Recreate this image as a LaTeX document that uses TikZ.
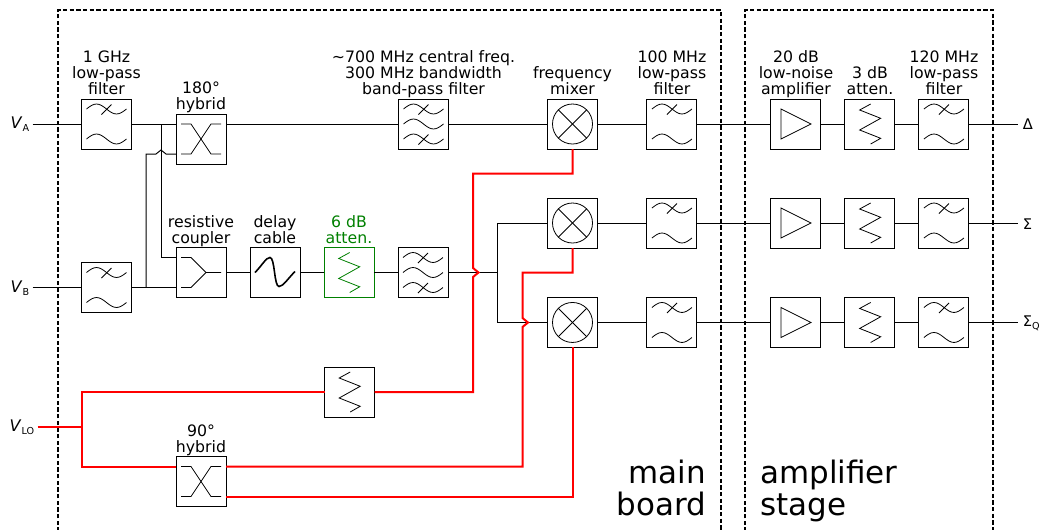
\documentclass[tikz,border=0pt]{standalone}
\usepackage{fontspec}
\setmainfont{DejaVu Sans}
\usepackage{xcolor}
\usetikzlibrary{positioning, calc}
\definecolor{rfLine}{HTML}{000000}
\definecolor{rfLo}{HTML}{FF0000}
\definecolor{rfGreen}{HTML}{008000}
% glyphs drawn inside the boxes, in pixels from the box centre
\newcommand{\rfwave}[1]{\draw (-20,#1) sin (-10,#1-5) cos (0,#1) sin (10,#1+5) cos (20,#1);}
\newcommand{\rfslash}[1]{\draw (5,#1-4.5) -- (-5,#1+5.5);}
\newcommand{\rfsub}[1]{\raisebox{-2.2pt}{\fontsize{7.2}{8}\selectfont #1}}
\tikzset{
  rf-box/.style={
    rectangle, draw, fill=white, line width=0.75pt, minimum size=37.5pt,
    inner sep=0pt, outer sep=0pt
  },
  rf-lpf/.style={rf-box, path picture={
    \begin{scope}[shift={(path picture bounding box.center)}, line width=0.6pt]
      \rfwave{-15}\rfslash{-15}\rfwave{15}
    \end{scope}}},
  rf-bpf/.style={rf-box, path picture={
    \begin{scope}[shift={(path picture bounding box.center)}, line width=0.6pt]
      \rfwave{-15}\rfslash{-15}\rfwave{0}\rfwave{15}\rfslash{15}
    \end{scope}}},
  rf-hybrid/.style={rf-box, path picture={
    \begin{scope}[shift={(path picture bounding box.center)}, line width=0.6pt]
      \draw (-20,-15) -- (-10,-15) -- (10,15) -- (20,15);
      \draw (-20,15) -- (-10,15) -- (10,-15) -- (20,-15);
    \end{scope}}},
  rf-coupler/.style={rf-box, path picture={
    \begin{scope}[shift={(path picture bounding box.center)}, line width=0.6pt]
      \draw (-20,-15) -- (-10,-15) -- (5,0) -- (20,0);
      \draw (-20,15) -- (-10,15) -- (5,0);
    \end{scope}}},
  rf-delay/.style={rf-box, path picture={
    \begin{scope}[shift={(path picture bounding box.center)}]
      \draw[line width=1.2pt] (-20,0) .. controls (-13,-7) and (-9,-15) .. (-5,-15)
        .. controls (0,-15) and (-1,14) .. (4,14) .. controls (8,14) and (13,6) .. (20,-1);
    \end{scope}}},
  rf-atten/.style={rf-box, path picture={
    \begin{scope}[shift={(path picture bounding box.center)}, line width=0.6pt]
      \draw (0.7,-20) -- (-10.3,-14) -- (10.7,-5.7) -- (-10.3,6) -- (10.7,14.3) -- (0.7,20);
    \end{scope}}},
  rf-amp/.style={rf-box, path picture={
    \begin{scope}[shift={(path picture bounding box.center)}, line width=0.6pt]
      \draw (-15,-15) -- (15,0) -- (-15,15) -- cycle;
    \end{scope}}},
  rf-mixer/.style={rf-box, path picture={
    \begin{scope}[shift={(path picture bounding box.center)}, line width=0.6pt]
      \draw (0,0) circle [radius=15pt];
      \draw (-14.1,-14.1) -- (14.1,14.1);
      \draw (-14.1,14.1) -- (14.1,-14.1);
    \end{scope}}},
  rf-cap/.style={align=center, inner sep=0pt, outer sep=0pt, text depth=0pt,
    yshift=3.3pt, font=\fontsize{11.8}{12}\selectfont},
  rf-in/.style={anchor=east, inner ysep=0pt, inner xsep=2.5pt, outer sep=0pt,
    font=\fontsize{12}{13}\selectfont},
  rf-out/.style={anchor=west, inner ysep=0pt, inner xsep=4pt, outer sep=0pt,
    font=\fontsize{11}{13}\selectfont},
  rf-big/.style={inner sep=0pt, outer sep=0pt, text depth=0pt,
    font=\fontsize{23.2}{24}\selectfont},
  rf-line/.style={line width=0.75pt, draw=rfLine},
  rf-lo/.style={line width=1.5pt, draw=rfLo},
  rf-frame/.style={line width=1.1pt, dash pattern=on 3.2pt off 1.8pt},
}
\begin{document}
\begin{tikzpicture}[x=0.75pt, y=-0.75pt, node distance=18pt]
  \useasboundingbox (0,0) rectangle (1040,529);

  \draw[rf-frame] (58,545) |- (721,10) -- (721,545);
  \draw[rf-frame] (745,545) |- (993,10) -- (993,545);

  % inputs
  \node[rf-in] (va) at (32.5,124) {\textit{V}\rfsub{A}};
  \node[rf-in] (vb) at (32.5,288) {\textit{V}\rfsub{B}};
  \node[rf-in] (vlo) at (37.5,427) {\textit{V}\rfsub{LO}};

  % top row
  \node[rf-lpf]                      (lpfa) at (106.5,124) {};
  \node[rf-hybrid]                   (hyba) at (201,139) {};
  \node[rf-bpf]                      (bpfa) at (423.5,124) {};
  \node[rf-mixer, right=74.25pt of bpfa] (mixa) {};
  \node[rf-lpf, right=37.1pt of mixa]    (lpfc) {};
  \node[rf-amp, right=55.5pt of lpfc]    (ampa) {};
  \node[rf-atten, right=of ampa]         (atta) {};
  \node[rf-lpf, right=of atta]           (lpfd) {};

  % second row
  \node[rf-lpf]                      (lpfb) at (106.5,287.5) {};
  \node[rf-coupler]                  (coup) at (201,272.5) {};
  \node[rf-delay, right=of coup]     (dly) {};
  \node[rf-atten, right=of dly, color=rfGreen, fill=white] (gatt) {};
  \node[rf-bpf, right=of gatt]       (bpfb) {};

  % sum and quadrature
  \node[rf-mixer, below=36.75pt of mixa] (mixb) {};
  \node[rf-mixer, below=37.1pt of mixb]  (mixc) {};
  \node[rf-lpf, right=37.1pt of mixb]    (lpfe) {};
  \node[rf-lpf, right=37.1pt of mixc]    (lpff) {};
  \node[rf-amp, right=55.5pt of lpfe]    (ampb) {};
  \node[rf-amp, right=55.5pt of lpff]    (ampc) {};
  \node[rf-atten, right=of ampb]         (attb) {};
  \node[rf-atten, right=of ampc]         (attc) {};
  \node[rf-lpf, right=of attb]           (lpfg) {};
  \node[rf-lpf, right=of attc]           (lpfh) {};

  % local oscillator
  \node[rf-atten]                    (loatt) at (349.5,392) {};
  \node[rf-hybrid]                   (hybb) at (201,481.5) {};

  % outputs
  \node[rf-out] (odelta) at (1017.5,124) {Δ};
  \node[rf-out] (osum) at (1017.5,224) {Σ};
  \node[rf-out] (oquad) at (1017.5,323.5) {Σ\rfsub{Q}};

  % captions
  \node[rf-cap, above=0pt of lpfa] (caplpfa) {1 GHz\\low-pass\\filter};
  \node[rf-cap, above=0pt of hyba] (caphyba) {180°\\hybrid};
  \node[rf-cap, above=0pt of coup] (capcoup) {resistive\\coupler};
  \node[rf-cap, above=0pt of dly]  (capdly) {delay\\cable};
  \node[rf-cap, above=0pt of gatt, text=rfGreen] (capgatt) {6 dB\\atten.};
  \node[rf-cap, above=0pt of bpfa] (capbpfa) {\textasciitilde 700 MHz central freq.\\300 MHz bandwidth\\band-pass filter};
  \node[rf-cap, above=0pt of mixa] (capmixa) {frequency\\mixer};
  \node[rf-cap, above=0pt of lpfc] (caplpfc) {100 MHz\\low-pass\\filter};
  \node[rf-cap, above=0pt of ampa] (capampa) {20 dB\\low-noise\\amplifier};
  \node[rf-cap, above=0pt of atta] (capatta) {3 dB\\atten.};
  \node[rf-cap, above=0pt of lpfd] (caplpfd) {120 MHz\\low-pass\\filter};
  \node[rf-cap, above=0pt of hybb] (caphybb) {90°\\hybrid};

  \node[rf-big, align=right, anchor=south east] (mainlab) at (706,515) {main\\board};
  \node[rf-big, align=left, anchor=south west] (amplab) at (760.5,515) {amplifier\\stage};

  % turning points
  \coordinate (splita) at (161,124);
  \coordinate (splitb) at (146,287.5);
  \coordinate (splitc) at (497.5,272.5);
  \coordinate (turna) at (473,173.5);
  \coordinate (turnb) at (522.5,272.5);
  \coordinate (splitlo) at (81.5,427);
  \coordinate (hopa) at (473,272.5);
  \coordinate (hopb) at (522.5,322.5);
  \coordinate (hopc) at (161,154);

  % signal paths
  \draw[rf-line] (lpfa -| va.east) -- (lpfa);
  \draw[rf-line] (lpfa.east) -- ($(hyba.west)+(0,-15)$);
  \draw[rf-line] ($(hyba.east)+(0,-15)$) -- (bpfa);
  \draw[rf-line] (bpfa) -- (mixa);
  \draw[rf-line] (mixa) -- (lpfc);
  \draw[rf-line] (lpfc) -- (ampa);
  \draw[rf-line] (ampa) -- (atta);
  \draw[rf-line] (atta) -- (lpfd);
  \draw[rf-line] (lpfd) -- (lpfd -| odelta.west);

  \draw[rf-line] (lpfb -| vb.east) -- (lpfb);
  \draw[rf-line] (lpfb.east) -- ($(coup.west)+(0,15)$);
  \draw[rf-line] (splita) |- ($(coup.west)+(0,-15)$);
  \draw[rf-line] (splitb) -- (146,154) -- ($(hopc)+(-5,0)$) -- ($(hopc)+(0,-4)$)
    -- ($(hopc)+(5,0)$) -- ($(hyba.west)+(0,15)$);
  \draw[rf-line] (coup) -- (dly);
  \draw[rf-line] (dly) -- (gatt);
  \draw[rf-line] (gatt) -- (bpfb);
  \draw[rf-line] (bpfb) -- (splitc);
  \draw[rf-line] (mixb.west) -- (mixb.west -| splitc) -- (mixc.west -| splitc) -- (mixc.west);

  \draw[rf-line] (mixb) -- (lpfe);
  \draw[rf-line] (lpfe) -- (ampb);
  \draw[rf-line] (ampb) -- (attb);
  \draw[rf-line] (attb) -- (lpfg);
  \draw[rf-line] (lpfg) -- (lpfg -| osum.west);
  \draw[rf-line] (mixc) -- (lpff);
  \draw[rf-line] (lpff) -- (ampc);
  \draw[rf-line] (ampc) -- (attc);
  \draw[rf-line] (attc) -- (lpfh);
  \draw[rf-line] (lpfh) -- (lpfh -| oquad.west);

  \draw[rf-lo] (vlo.east) -- (splitlo);
  \draw[rf-lo] (loatt) -| (splitlo) |- (hybb.west |- 0,466.5);
  \draw[rf-lo] (loatt.east) -| ($(hopa)+(0,4.5)$) -- ($(hopa)+(5.5,0)$) -- ($(hopa)+(0,-4.5)$)
    -- (turna) -| (mixa.south);
  \draw[rf-lo] ($(hybb.east)+(0,-15)$) -| ($(hopb)+(0,4.5)$) -- ($(hopb)+(5.5,0)$) -- ($(hopb)+(0,-4.5)$)
    -- (turnb) -| (mixb.south);
  \draw[rf-lo] ($(hybb.east)+(0,15)$) -| (mixc.south);
\end{tikzpicture}
\end{document}
